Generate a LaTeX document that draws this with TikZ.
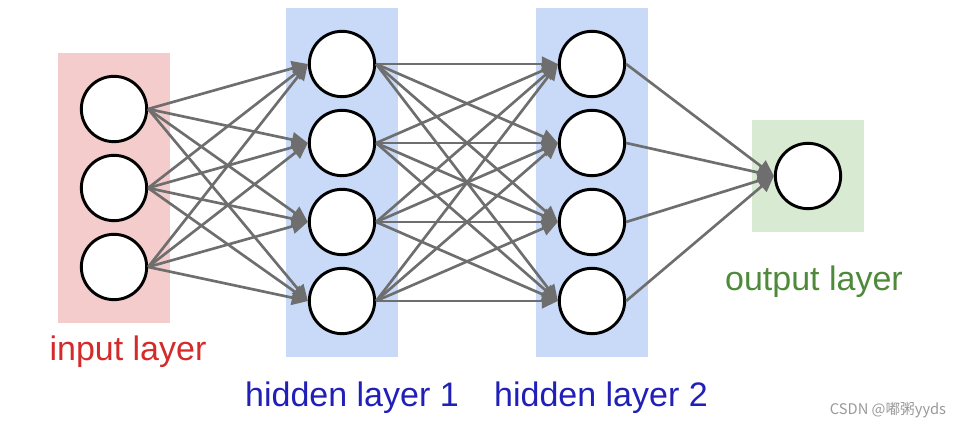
\documentclass[tikz,border=0pt]{standalone}
\usepackage{fontspec}
\setmainfont{Liberation Sans}
\newfontfamily\cjkfont{Noto Sans CJK SC}
\usepackage{xcolor}
\usetikzlibrary{positioning, arrows.meta, fit, backgrounds}

\definecolor{inpink}{HTML}{F4CCCC}
\definecolor{hidblue}{HTML}{C9DAF8}
\definecolor{outgreen}{HTML}{D9EAD3}
\definecolor{inred}{HTML}{D42A2A}
\definecolor{hidtext}{HTML}{2020B8}
\definecolor{outtext}{HTML}{4E8A3A}
\definecolor{edgegray}{HTML}{6E6E6E}

\begin{document}
\begin{tikzpicture}[x=0.75pt, y=0.75pt, >={Triangle[length=12pt,width=11pt]}, on grid, node distance=59.25pt,
  neuron/.style={circle, draw=black, line width=2.2pt, fill=white, minimum size=49pt, inner sep=0pt},
  layerbox/.style={rectangle, inner sep=16.5pt},
  conn/.style={->, draw=edgegray, line width=2pt},
  lbl/.style={font=\fontsize{25.5}{30}\selectfont}]
  \useasboundingbox (0,0) rectangle (960,427);
  % input layer
  \node[neuron] (i1) at (114,318) {};
  \node[neuron] (i2) [below=of i1] {};
  \node[neuron] (i3) [below=of i2] {};
  % hidden layer 1
  \node[neuron] (h1) at (342,363) {};
  \node[neuron] (h2) [below=of h1] {};
  \node[neuron] (h3) [below=of h2] {};
  \node[neuron] (h4) [below=of h3] {};
  % hidden layer 2
  \node[neuron] (k1) at (592,363) {};
  \node[neuron] (k2) [below=of k1] {};
  \node[neuron] (k3) [below=of k2] {};
  \node[neuron] (k4) [below=of k3] {};
  % output layer
  \node[neuron] (o1) at (808,251) {};

  \begin{scope}[on background layer]
    \node[layerbox, fill=inpink, fit=(i1)(i3)] (inbox) {};
    \node[layerbox, fill=hidblue, fit=(h1)(h4)] (hidboxa) {};
    \node[layerbox, fill=hidblue, fit=(k1)(k4)] (hidboxb) {};
    \node[layerbox, fill=outgreen, fit=(o1)] (outbox) {};
  \end{scope}

  \foreach \a in {1,2,3}
    \foreach \b in {1,...,4}
      \draw[conn] (i\a.east) -- (h\b.west);
  \foreach \a in {1,...,4}
    \foreach \b in {1,...,4}
      \draw[conn] (h\a.east) -- (k\b.west);
  \foreach \a in {1,...,4}
    \draw[conn] (k\a.east) -- (o1.west);

  \node[lbl, text=inred] (inlbl) at (128,75) {input layer};
  \node[lbl, text=hidtext] (hidlbla) at (352,29) {hidden layer 1};
  \node[lbl, text=hidtext] (hidlblb) at (601,29) {hidden layer 2};
  \node[lbl, text=outtext] (outlbl) at (814,145) {output layer};
  \node[text=gray!80, font=\cjkfont\fontsize{11}{13}\selectfont] (mark) at (888,17) {CSDN @嘟粥yyds};
\end{tikzpicture}
\end{document}
